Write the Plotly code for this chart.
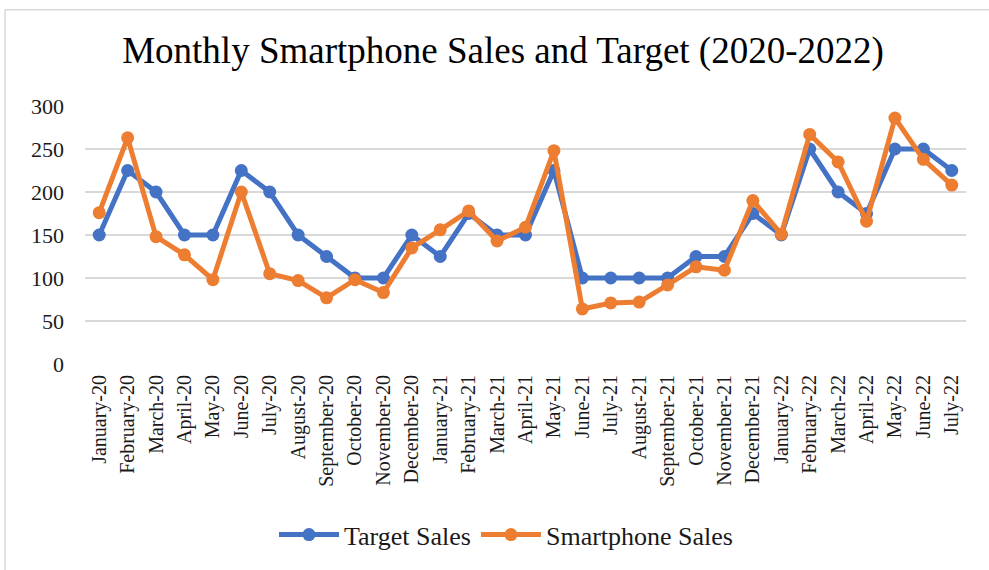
import plotly.graph_objects as go

months = ["January-20","February-20","March-20","April-20","May-20","June-20","July-20","August-20",
          "September-20","October-20","November-20","December-20","January-21","February-21","March-21",
          "April-21","May-21","June-21","July-21","August-21","September-21","October-21","November-21",
          "December-21","January-22","February-22","March-22","April-22","May-22","June-22","July-22"]
target_sales = [150,225,200,150,150,225,200,150,125,100,100,150,125,175,150,150,225,100,100,100,100,
                125,125,175,150,250,200,175,250,250,225]
smartphone_sales = [176,263,148,127,98,200,105,97,77,98,83,135,156,178,143,159,248,64,71,72,92,
                    113,109,190,151,267,235,166,286,238,208]
y_ticks = [0,50,100,150,200,250,300]

BLUE = "#4472C4"
ORANGE = "#ED7D31"
FONT = "Liberation Serif, Times New Roman, serif"

fig = go.Figure()
fig.add_trace(go.Scatter(x=months, y=target_sales, name="Target Sales", mode="lines+markers",
                         line=dict(color=BLUE, width=5), marker=dict(color=BLUE, size=13)))
fig.add_trace(go.Scatter(x=months, y=smartphone_sales, name="Smartphone Sales", mode="lines+markers",
                         line=dict(color=ORANGE, width=5), marker=dict(color=ORANGE, size=13)))

fig.update_layout(
    width=989, height=570,
    margin=dict(l=85, r=23, t=106, b=204),
    paper_bgcolor="white", plot_bgcolor="white",
    font=dict(family=FONT, color="#1a1a1a", size=18),
    title=dict(text="Monthly Smartphone Sales and Target (2020-2022)", x=503/989, xanchor="center",
               y=1-50/570, yref="container", yanchor="middle",
               font=dict(family=FONT, size=37, color="black")),
    xaxis=dict(type="category", range=[-0.5, 30.5], tickangle=-90, showgrid=False,
               showline=False, zeroline=False, ticks="", tickfont=dict(size=20),
               ticklabelstandoff=6),
    yaxis=dict(range=[0, 300], tickvals=y_ticks, showgrid=True, gridcolor="#d9d9d9", gridwidth=2,
               zeroline=False, showline=False, ticks="", tickfont=dict(size=22),
               ticklabelstandoff=20),
    legend=dict(orientation="h", x=(506-85)/881, xanchor="center", y=(366-538)/260, yanchor="middle",
                font=dict(size=26, color="#1a1a1a"), itemwidth=60, tracegroupgap=0),
    showlegend=True,
)

fig.add_shape(type="line", xref="paper", yref="paper", x0=(5-85)/881, x1=(989-85)/881,
              y0=(366-9)/260, y1=(366-9)/260, line=dict(color="#d9d9d9", width=1.5))
fig.add_shape(type="line", xref="paper", yref="paper", x0=(5-85)/881, x1=(5-85)/881,
              y0=(366-9)/260, y1=(366-575)/260, line=dict(color="#d9d9d9", width=1.5))

fig.write_html("out.html")
